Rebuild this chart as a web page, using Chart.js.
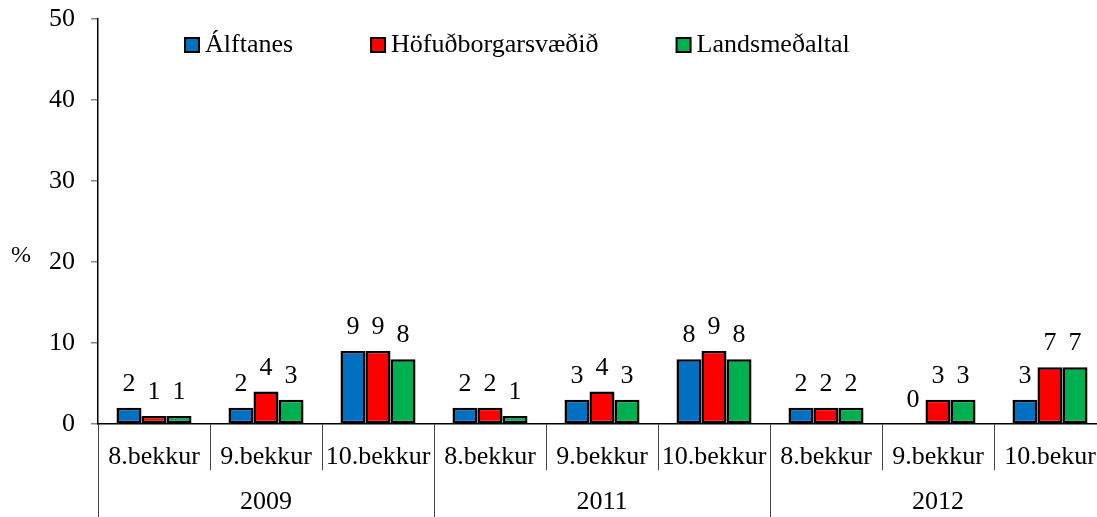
<!DOCTYPE html>
<html>
<head>
<meta charset="utf-8">
<script src="https://cdn.jsdelivr.net/npm/chart.js@4"></script>
<style>
  body { margin: 0; overflow: hidden; background: #fff; }
  #wrap { width: 1108px; height: 517px; }
</style>
</head>
<body>
<div id="wrap"><canvas id="barChart"></canvas></div>
<script>
/* grados y años */
var bekkur = ["8.bekkur", "9.bekkur", "10.bekkur", "8.bekkur", "9.bekkur", "10.bekkur", "8.bekkur", "9.bekkur", "10.bekur"];
var years = ["2009", "2011", "2012"];

var alftanes = [2, 2, 9, 2, 3, 8, 2, 0, 3];
var hofud = [1, 4, 9, 2, 4, 9, 2, 3, 7];
var lands = [1, 3, 8, 1, 3, 8, 2, 3, 7];

var yTicks = [0, 10, 20, 30, 40, 50];

var serif = "'Liberation Serif', 'Times New Roman', serif";

// etiquetas de valor sobre las barras
var valueLabels = {
    id: 'valueLabels',
    afterDatasetsDraw: function (chart) {
        var ctx = chart.ctx;
        ctx.save();
        ctx.font = "26px " + serif;
        ctx.fillStyle = "#000";
        ctx.textAlign = "center";
        ctx.textBaseline = "alphabetic";
        chart.data.datasets.forEach(function (ds, i) {
            chart.getDatasetMeta(i).data.forEach(function (bar, j) {
                ctx.fillText(ds.data[j], bar.x, bar.y - 17);
            });
        });
        ctx.restore();
    }
};

// leyenda dentro del area y el "%"
var extras = {
    id: 'extras',
    afterDraw: function (chart) {
        var ctx = chart.ctx;
        ctx.save();
        ctx.font = "24px " + serif;
        ctx.textBaseline = "middle";
        ctx.fillStyle = "#000";
        ctx.textAlign = "left";
        ctx.fillText("%", 11, 256);

        ctx.font = "26px " + serif;
        var x = 185;
        chart.data.datasets.forEach(function (ds) {
            ctx.fillStyle = ds.backgroundColor;
            ctx.fillRect(x, 38, 14, 14);
            ctx.strokeStyle = "#000";
            ctx.lineWidth = 2;
            ctx.strokeRect(x, 38, 14, 14);
            ctx.fillStyle = "#000";
            ctx.fillText(ds.label, x + 20, 45);
            x += 20 + ctx.measureText(ds.label).width + 78;
        });
        ctx.restore();
    }
};

var chartdata = {
    labels: bekkur,
    datasets: [
        {
            label: "Álftanes",
            backgroundColor: '#0070C0',
            borderColor: '#000',
            borderWidth: 2.5,
            borderSkipped: false,
            data: alftanes
        },
        {
            label: "Höfuðborgarsvæðið",
            backgroundColor: '#FF0000',
            borderColor: '#000',
            borderWidth: 2.5,
            borderSkipped: false,
            data: hofud
        },
        {
            label: "Landsmeðaltal",
            backgroundColor: '#00B050',
            borderColor: '#000',
            borderWidth: 2.5,
            borderSkipped: false,
            data: lands
        }
    ]
};

var graphTarget = document.getElementById("barChart");

var barGraph = new Chart(graphTarget, {
    type: 'bar',
    data: chartdata,
    plugins: [valueLabels, extras],
    options: {
        responsive: true,
        maintainAspectRatio: false,
        animation: false,
        layout: { padding: { top: 19, right: 2, left: 0, bottom: 0 } },
        datasets: { bar: { categoryPercentage: 0.67, barPercentage: 1.0 } },
        plugins: {
            legend: { display: false },
            tooltip: { enabled: false }
        },
        scales: {
            y: {
                min: 0,
                max: 50,
                afterFit: function (s) {
                    s.width = 98;
                    s.paddingTop = 0;
                    s.paddingBottom = 0;
                },
                afterBuildTicks: function (s) {
                    s.ticks = yTicks.map(function (v) { return { value: v }; });
                },
                grid: { drawOnChartArea: false, tickLength: 7, color: '#888', lineWidth: 1.5 },
                border: { color: '#000', width: 1.5 },
                ticks: { padding: 16, color: '#000', font: { size: 26, family: serif } }
            },
            x: {
                position: 'bottom',
                afterFit: function (s) { s.height = 46; },
                grid: { offset: true, drawOnChartArea: false, tickLength: 46, color: '#444', lineWidth: 1 },
                border: { color: '#000', width: 1.5 },
                ticks: { padding: -28, color: '#000', maxRotation: 0, autoSkip: false, font: { size: 26, family: serif } }
            },
            x2: {
                type: 'category',
                position: 'bottom',
                labels: years,
                afterFit: function (s) { s.height = 47; },
                grid: { offset: true, drawOnChartArea: false, tickLength: 47, color: '#444', lineWidth: 1 },
                border: { display: false },
                ticks: { padding: -30, color: '#000', maxRotation: 0, autoSkip: false, font: { size: 26, family: serif } }
            }
        }
    }
});
</script>
</body>
</html>
